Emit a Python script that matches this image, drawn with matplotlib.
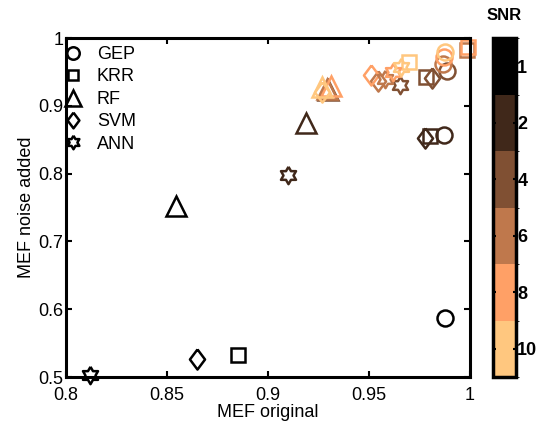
import numpy as np
import matplotlib
matplotlib.use('Agg')
from matplotlib import pyplot as plt
from matplotlib.colors import ListedColormap, BoundaryNorm
from matplotlib.cm import ScalarMappable
from matplotlib.lines import Line2D

plt.rcParams['font.family'] = ['Liberation Sans', 'DejaVu Sans']

# SNR levels and their colours (copper map, 6 steps)
snr_levels = [1, 2, 4, 6, 8, 10]
snr_colors = ['#000000', '#40281a', '#805033', '#bf784c', '#ffa066', '#ffc77f']

# MEF original / MEF noise added, one value per SNR level
gep_x = [0.9876, 0.9870, 0.9886, 0.9866, 0.9872, 0.9876]
gep_y = [0.587, 0.857, 0.951, 0.962, 0.972, 0.979]
krr_x = [0.885, 0.980, 0.978, 0.9985, 0.999, 0.970]
krr_y = [0.532, 0.855, 0.942, 0.982, 0.987, 0.964]
rf_x = [0.8545, 0.919, 0.9297, 0.9290, 0.9310, 0.9267]
rf_y = [0.752, 0.875, 0.923, 0.925, 0.929, 0.928]
svm_x = [0.865, 0.9777, 0.981, 0.9545, 0.951, 0.9267]
svm_y = [0.5265, 0.8525, 0.941, 0.937, 0.945, 0.920]
ann_x = [0.812, 0.910, 0.9655, 0.958, 0.962, 0.966]
ann_y = [0.503, 0.798, 0.930, 0.940, 0.950, 0.957]

model_names = ['GEP', 'KRR', 'RF', 'SVM', 'ANN']


def hexagram():
    verts = []
    for k in range(12):
        ang = np.pi / 2 + k * np.pi / 6
        r = 1.0 if k % 2 == 0 else 1 / np.sqrt(3)
        verts.append((r * np.cos(ang), r * np.sin(ang)))
    verts.append(verts[0])
    return verts


diamond = [(0, 1), (0.75, 0), (0, -1), (-0.75, 0), (0, 1)]

# marker, size in points
model_style = {
    'GEP': ('o', 11.5),
    'KRR': ('s', 9.7),
    'RF': ('^', 14.0),
    'SVM': (diamond, 14.5),
    'ANN': (hexagram(), 12.5),
}
model_data = {
    'GEP': (gep_x, gep_y),
    'KRR': (krr_x, krr_y),
    'RF': (rf_x, rf_y),
    'SVM': (svm_x, svm_y),
    'ANN': (ann_x, ann_y),
}

fig = plt.figure(figsize=(5.37, 4.23), dpi=100)
ax = fig.add_axes([0.1229, 0.1087, 0.7523, 0.8014])
lw = 1.8

for name in model_names:
    marker, ms = model_style[name]
    xs, ys = model_data[name]
    for i in range(len(snr_levels)):
        ax.plot(xs[i], ys[i], linestyle='none', marker=marker, markersize=ms,
                markerfacecolor='none', markeredgecolor=snr_colors[i],
                markeredgewidth=lw, clip_on=False)

ax.set_xlim(0.8, 1.0)
ax.set_ylim(0.5, 1.0)
ax.set_xticks([0.8, 0.85, 0.9, 0.95, 1.0])
ax.set_xticklabels(['0.8', '0.85', '0.9', '0.95', '1'])
ax.set_yticks([0.5, 0.6, 0.7, 0.8, 0.9, 1.0])
ax.set_yticklabels(['0.5', '0.6', '0.7', '0.8', '0.9', '1'])
ax.tick_params(direction='in', length=4, width=1.5, labelsize=13,
               top=True, right=True, pad=2)
ax.tick_params(axis='x', pad=7)
for s in ax.spines.values():
    s.set_linewidth(2.2)
ax.set_xlabel('MEF original', fontsize=13, labelpad=0)
ax.set_ylabel('MEF noise added', fontsize=13, labelpad=2)

handles = []
for name in model_names:
    marker, ms = model_style[name]
    handles.append(Line2D([], [], linestyle='none', marker=marker, markersize=ms * 0.78,
                          markerfacecolor='none', markeredgecolor='black',
                          markeredgewidth=1.8))
ax.legend(handles, model_names, loc='upper left', bbox_to_anchor=(-0.02, 0.995),
          frameon=False, fontsize=13, borderaxespad=0, handletextpad=0.8,
          labelspacing=0.3, handlelength=1.0, borderpad=0.35)

# colorbar
cax = fig.add_axes([0.918, 0.1087, 0.0428, 0.8014])
cmap = ListedColormap(snr_colors)
norm = BoundaryNorm([-1, 1, 3, 5, 7, 9, 11], cmap.N)
sm = ScalarMappable(norm=norm, cmap=cmap)
cb = fig.colorbar(sm, cax=cax, ticks=[0, 2, 4, 6, 8, 10])
cb.set_ticklabels([str(v) for v in snr_levels])
cax.invert_yaxis()
cax.tick_params(direction='in', left=True, right=True, length=2, width=1.5,
                labelsize=13, pad=1)
for t in cax.get_yticklabels():
    t.set_fontweight('bold')
cb.outline.set_linewidth(2.5)
cax.set_title('SNR', fontsize=12, fontweight='bold', pad=13)

fig.savefig('out.png', dpi=100)
